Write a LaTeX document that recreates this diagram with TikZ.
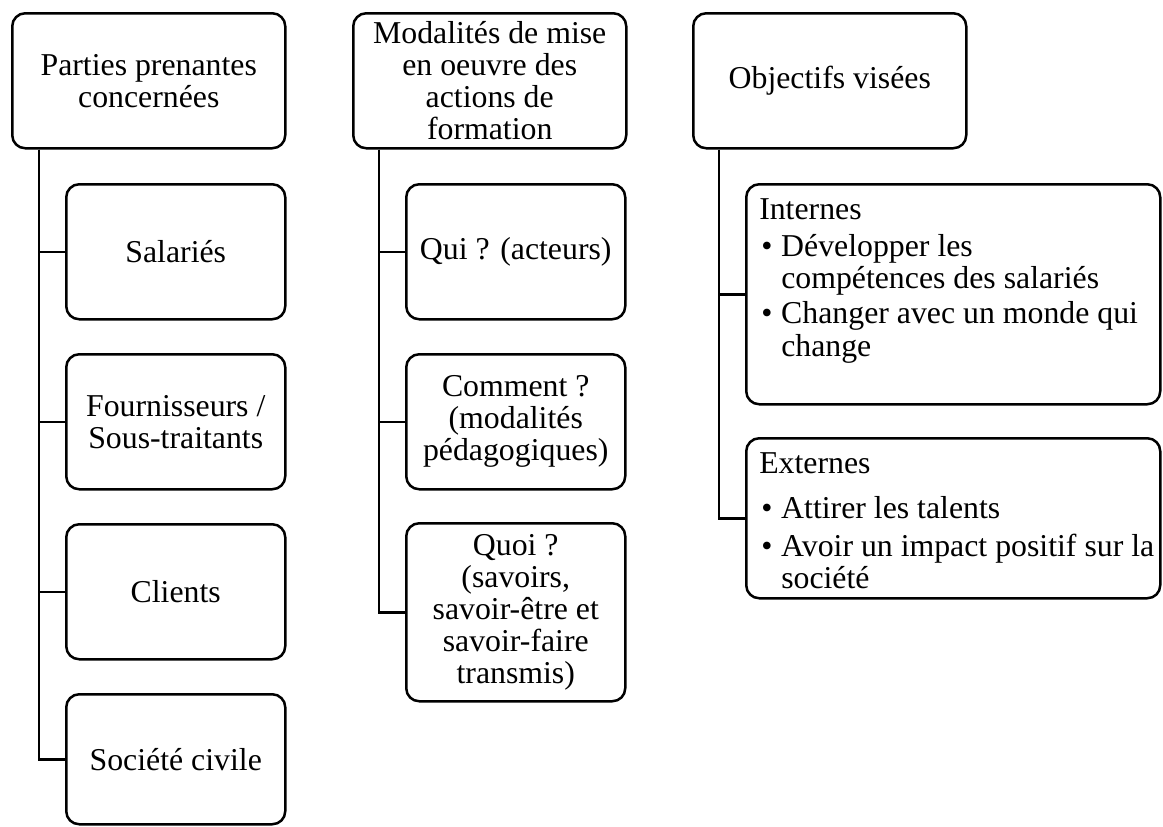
\documentclass[tikz,border=0pt]{standalone}
\usepackage{fontspec}
\setmainfont{Liberation Serif}
\newcommand{\puce}{\makebox[11pt][l]{\hspace{1pt}\textbullet}}
\newcommand{\suite}{\hspace*{11pt}}
\begin{document}
\begin{tikzpicture}[
        x=0.5pt, y=-0.5pt,
        every node/.style={font=\fontsize{15.9pt}{16pt}\selectfont},
        box/.style={draw, rounded corners=6.5pt, line width=1.25pt, anchor=north west, align=center, inner sep=0pt},
        headbox/.style={box, minimum width=136.5pt, minimum height=67.5pt},
        subbox/.style={box, minimum width=109.5pt, minimum height=67.5pt},
        widebox/.style={box, minimum width=207pt},
        link/.style={line width=1.25pt},
    ]
    \useasboundingbox (0,0) rectangle (1163,826);
    \node[headbox](parties) at (11,12) {Parties prenantes\\concernées};
    \node[subbox](salaries) at (65,183) {Salariés};
    \node[subbox](fournisseurs) at (65,353) {Fournisseurs /\\Sous-traitants};
    \node[subbox](clients) at (65,523) {Clients};
    \node[subbox, minimum height=65pt](societe) at (65,693) {Société civile};

    \node[headbox](modalites) at (352,12) {Modalités de mise\\en oeuvre des\\actions de\\formation};
    \node[subbox](qui) at (405,183) {Qui ? (acteurs)};
    \node[subbox](comment) at (405,353) {Comment ?\\(modalités\\pédagogiques)};
    \node[subbox, minimum height=89pt](quoi) at (405,522) {Quoi ?\\(savoirs,\\savoir-être et\\savoir-faire\\transmis)};

    \node[headbox](objectifs) at (692,12) {Objectifs visées};
    \node[widebox, minimum height=110pt](internes) at (745,183) {%
        \begin{minipage}[c][96pt][t]{194pt}\raggedright
        Internes\\[2.5pt]
        \puce Développer les\\
        \suite\mbox{compétences des salariés}\\[1.5pt]
        \puce\mbox{Changer avec un monde qui}\\[0.5pt]
        \suite change
        \end{minipage}};
    \node[widebox, minimum height=80pt](externes) at (745,437) {%
        \begin{minipage}[c][66pt][t]{194pt}\raggedright
        Externes\\[6.5pt]
        \puce Attirer les talents\\[3pt]
        \puce\mbox{Avoir un impact positif sur la}\\
        \suite société
        \end{minipage}};

    \coordinate (spineA) at ([xshift=14pt]parties.south west);
    \coordinate (spineB) at ([xshift=13.5pt]modalites.south west);
    \coordinate (spineC) at ([xshift=13.5pt]objectifs.south west);
    \foreach \n in {salaries,fournisseurs,clients,societe}
        \draw[link] (spineA) |- (\n.west);
    \foreach \n in {qui,comment,quoi}
        \draw[link] (spineB) |- (\n.west);
    \foreach \n in {internes,externes}
        \draw[link] (spineC) |- (\n.west);
\end{tikzpicture}
\end{document}
